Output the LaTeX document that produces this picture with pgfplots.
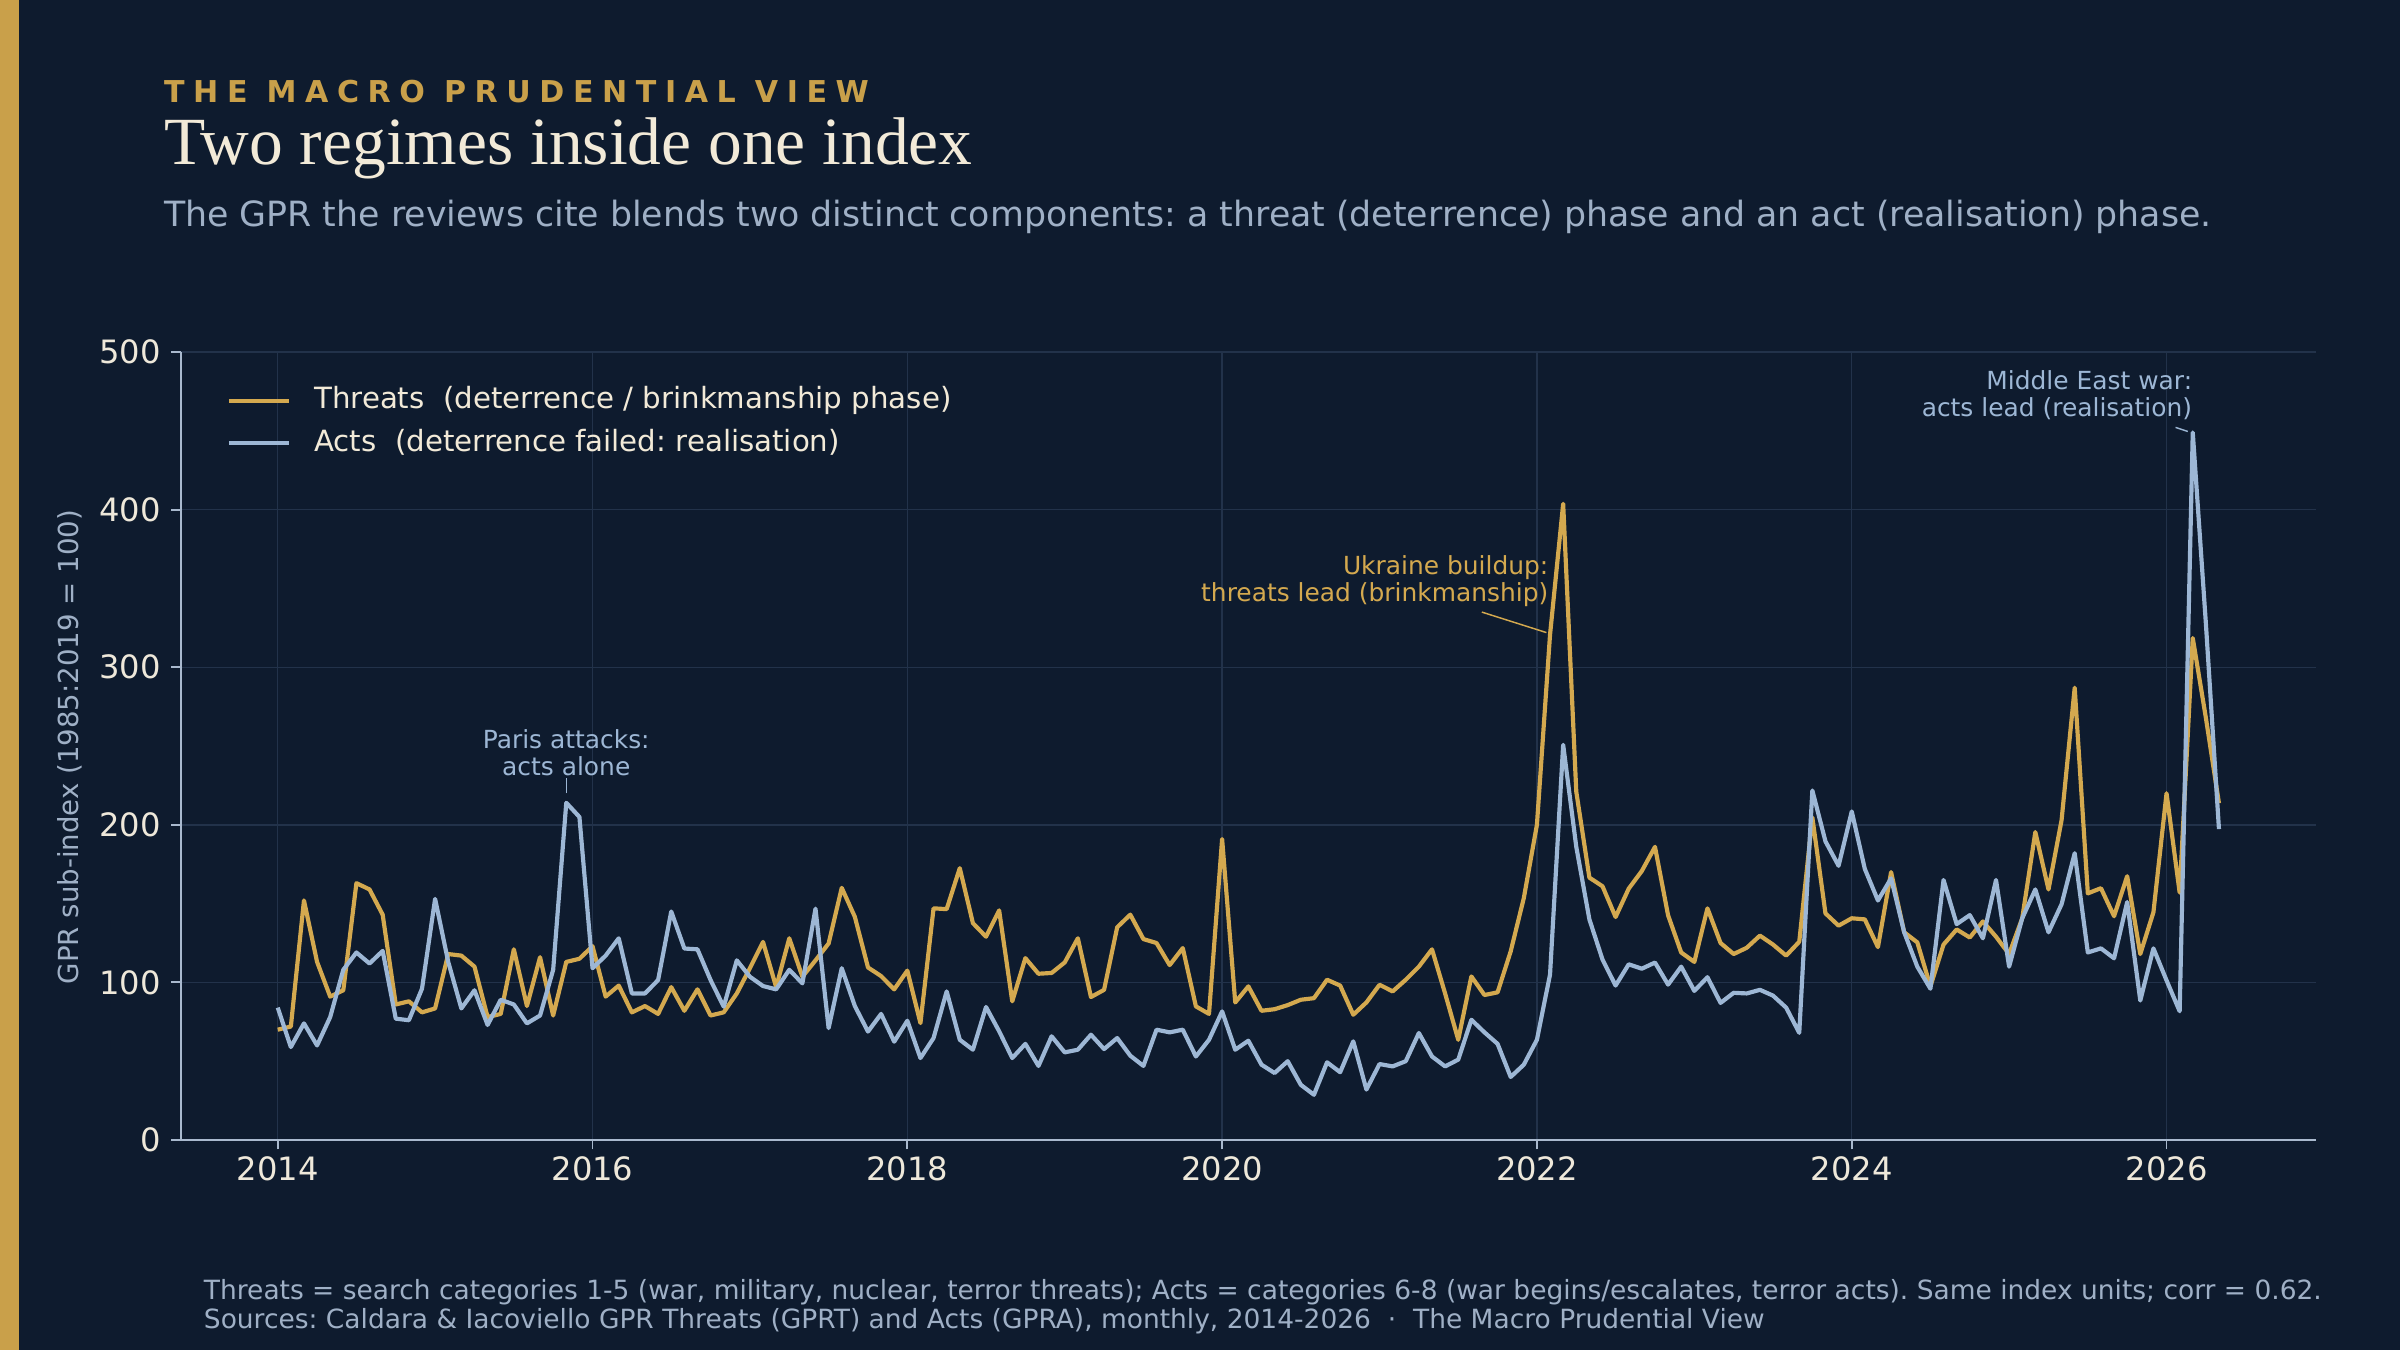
\documentclass[border=0pt]{standalone}
\usepackage{fontspec}
\setmainfont{DejaVu Sans}
\newfontfamily\titlefont{Liberation Serif}
\newfontfamily\headfont[LetterSpace=28.5]{DejaVu Sans Bold}
\usepackage{pgfplots}
\pgfplotsset{compat=1.18}
\usepackage{pgfplotstable}
\frenchspacing
\definecolor{bg}{HTML}{0E1B2E}
\definecolor{goldbar}{HTML}{C9A04A}
\definecolor{goldline}{HTML}{D4A94F}
\definecolor{blueline}{HTML}{9DB7D5}
\definecolor{cream}{HTML}{F2EAD8}
\definecolor{subc}{HTML}{9FB0C6}
\definecolor{gridc}{HTML}{22324A}
\definecolor{spinec}{HTML}{A9B9CE}
\definecolor{tickc}{HTML}{EEE8DA}

\pgfplotstableread{
idx threats acts
0 70 84
1 72 59
2 152 74
3 113 60
4 91 78
5 95 108
6 163 119
7 159 112
8 143 120
9 86 77
10 88 76
11 81 96
12 83.5 153
13 118 113
14 117 83.5
15 110 95
16 78 73
17 80 89
18 121 86
19 85 74
20 116 79
21 79 108
22 113 214
23 115 205
24 123 109
25 91 117
26 98 128
27 81 93
28 85 93
29 80 101.5
30 97 145
31 82 121.5
32 95.6 121
33 79 101.5
34 81 84.6
35 93 114
36 109 103.6
37 125.7 97.7
38 97 95.6
39 128 108
40 103.6 99.4
41 114 146.8
42 124.7 71
43 160 109
44 141.6 85
45 109.5 68.8
46 104 80
47 95.6 62.4
48 107.5 75.7
49 74.2 52
50 147 64.7
51 146.5 94.3
52 172.5 63.6
53 137.6 57.3
54 129 84.4
55 145.7 69
56 88 52
57 115.4 61
58 105.5 47
59 106 65.8
60 112.7 55.6
61 128 57.3
62 90.7 66.8
63 95.3 57.7
64 135 64.7
65 143 53.5
66 127.5 47
67 125 70
68 111 68.3
69 121.8 70
70 84.8 53
71 80 63.6
72 191 81.6
73 87.3 57.3
74 97.5 63
75 82 47.8
76 83 42.5
77 85.6 50
78 89 35
79 90 28.7
80 101.7 49.3
81 98 43
82 79.5 62.6
83 87.3 32
84 98.5 48.2
85 94.3 46.7
86 101.7 50
87 110 67.9
88 121 53
89 93 46.7
90 63.6 51
91 103.8 76.3
92 92 68.3
93 93.7 61
94 119.7 40
95 153.5 47.8
96 200 63.6
97 320.6 105
98 403.7 250.8
99 221 186
100 166.5 140
101 161 114.5
102 141.5 98
103 159.5 111.5
104 170.7 108.7
105 186 112.6
106 142.6 98.6
107 119 110
108 113 94.6
109 147 103.3
110 125 87
111 118 93.4
112 122 93
113 129.7 95.3
114 124 91.6
115 117 84
116 125.8 68
117 204.7 221.8
118 143.8 189.5
119 136 174
120 140.7 208.5
121 140 172
122 122.4 152
123 170 166
124 131.8 131.8
125 125.4 110
126 97.5 96
127 124 165
128 133.6 137
129 128.5 142.7
130 138.7 128
131 129 165
132 118 110
133 140.7 140.7
134 195.4 159
135 159 131.8
136 203 149.6
137 287 182
138 156.5 119
139 159.8 121.6
140 142 115.3
141 167.4 151
142 118 88.5
143 144.5 121.6
144 220 101.3
145 157 81.7
146 318.5 449
147 268 328
148 213.7 197.3
}\gpr

\begin{document}
\begin{tikzpicture}
\path[use as bounding box, fill=bg] (0,0) rectangle (1152bp,648bp);
\fill[goldbar] (0,0) rectangle (9.1bp,648bp);
\node[anchor=base west, inner sep=0, text=goldbar, font=\headfont\fontsize{14.5}{16}\selectfont] at (78.6bp,598.8bp) {THE MACRO PRUDENTIAL VIEW};
\node[anchor=base west, inner sep=0, text=cream, font=\titlefont\fontsize{32.5}{36}\selectfont] at (78.6bp,568.8bp) {Two regimes inside one index};
\node[anchor=base west, inner sep=0, text=subc, font=\fontsize{16.75}{19}\selectfont] at (78.6bp,539.3bp) {The GPR the reviews cite blends two distinct components: a threat (deterrence) phase and an act (realisation) phase.};
\node[anchor=base west, inner sep=0, text=subc, font=\fontsize{12.75}{15}\selectfont] at (97.7bp,24.2bp) {Threats = search categories 1-5 (war, military, nuclear, terror threats); Acts = categories 6-8 (war begins/escalates, terror acts). Same index units; corr = 0.62.};
\node[anchor=base west, inner sep=0, text=subc, font=\fontsize{12.75}{15}\selectfont] at (97.7bp,10.3bp) {Sources: Caldara \& Iacoviello GPR Threats (GPRT) and Acts (GPRA), monthly, 2014-2026\ \ ·\ \ The Macro Prudential View};
\node[rotate=90, inner sep=0, text=subc, font=\fontsize{13.3}{16}\selectfont] at (33.5bp,289.4bp) {GPR sub-index (1985:2019 = 100)};

\begin{axis}[
  at={(86.7bp,100.8bp)}, anchor=south west,
  scale only axis, width=1025bp, height=378.2bp,
  xmin=2013.383, xmax=2026.95, ymin=0, ymax=500,
  axis x line*=bottom, axis y line*=left,
  axis line style={-, draw=spinec, line width=0.9bp},
  xtick={2014,2016,2018,2020,2022,2024,2026},
  ytick={0,100,200,300,400,500},
  tick align=outside, major tick length=4.5bp,
  tick style={draw=spinec, line width=0.9bp},
  grid=major, grid style={draw=gridc, line width=0.7bp},
  /pgf/number format/1000 sep={},
  /pgf/number format/assume math mode=true,
  ticklabel style={font=\fontsize{15.5}{18}\selectfont, text=tickc},
  yticklabel style={xshift=-1.6bp},
  clip=false,
  legend cell align=left,
  legend style={at={(axis description cs:0,1)}, anchor=north west,
    xshift=22bp, yshift=-14.9bp, draw=none, fill=none, text=cream,
    inner sep=0pt, row sep=3.9bp,
    font=\fontsize{14.1}{17}\selectfont,
    nodes={inner sep=1bp, text height=11bp, text depth=3.5bp}},
  legend image code/.code={\path[draw=none] (0bp,0bp) -- (39.9bp,0bp); \draw[#1, line width=2bp] (0bp,0bp) -- (29bp,0bp);},
]
\addplot[goldline, line width=2bp, line join=round] table[x expr={2014+\thisrow{idx}/12}, y=threats] {\gpr};
\addlegendentry{Threats\ \ (deterrence / brinkmanship phase)}
\addplot[blueline, line width=2bp, line join=round] table[x expr={2014+\thisrow{idx}/12}, y=acts] {\gpr};
\addlegendentry{Acts\ \ (deterrence failed: realisation)}

\draw[blueline, line width=0.7bp] (axis cs:2015.833,220) -- (axis cs:2015.833,230);
\node[anchor=center, align=center, inner sep=0, text=blueline, font=\fontsize{12}{13.2}\selectfont] at (axis cs:2015.833,245.6) {Paris attacks:\\acts alone};
\draw[goldline, line width=0.7bp] (axis cs:2021.65,335) -- (axis cs:2022.06,322);
\node[anchor=east, align=right, inner sep=0, text=goldline, font=\fontsize{12}{13.2}\selectfont] at (axis cs:2022.075,354.8) {Ukraine buildup:\\threats lead (brinkmanship)};
\draw[blueline, line width=0.7bp] (axis cs:2026.057,452.2) -- (axis cs:2026.135,449.6);
\node[anchor=east, align=right, inner sep=0, text=blueline, font=\fontsize{12}{13.2}\selectfont] at (axis cs:2026.165,472.7) {Middle East war:\\acts lead (realisation)};
\end{axis}
\end{tikzpicture}
\end{document}
